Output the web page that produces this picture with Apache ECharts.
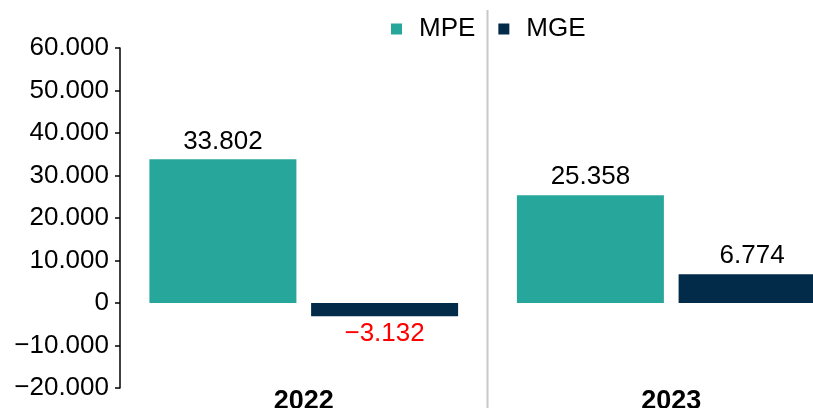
<!DOCTYPE html>
<html>
<head>
<meta charset="utf-8">
<script src="https://cdn.jsdelivr.net/npm/echarts@6/dist/echarts.min.js"></script>
<style>
  html, body { margin: 0; padding: 0; background: #fff; }
  #chart { width: 813px; height: 408px; }
</style>
</head>
<body>
<div id="chart"></div>
<script>
const years = ['2022', '2023'];
const mpe = [33802, 25358];
const mge = [-3132, 6774];
const yMin = -20000;
const yMax = 60000;
const yStep = 10000;

const FONT = "'Liberation Sans', Arial, sans-serif";
const TEAL = '#27a69b';
const NAVY = '#022b4a';

// 60000 -> "60.000", negative with a real minus sign
function fmt(v) {
  const s = String(Math.abs(Math.round(v))).replace(/\B(?=(\d{3})+(?!\d))/g, '.');
  return v < 0 ? '\u2212' + s : s;
}

const chart = echarts.init(document.getElementById('chart'));

chart.setOption({
  animation: false,
  textStyle: { fontFamily: FONT },
  legend: {
    left: 391,
    top: 16,
    padding: 0,
    itemWidth: 11,
    itemHeight: 11,
    itemGap: 23,
    icon: 'rect',
    textStyle: { fontSize: 26, color: '#000', padding: [0, 0, 0, 12], fontFamily: FONT },
    data: ['MPE', 'MGE']
  },
  // the plot runs past the right edge of the picture (2023 MGE bar is cut off)
  grid: { left: 120, width: 735, top: 48, bottom: 20, outerBoundsMode: 'none' },
  xAxis: {
    type: 'category',
    data: years,
    axisLine: { show: false },
    axisTick: { show: false },
    splitLine: { show: false },
    axisLabel: {
      margin: 0,
      fontSize: 27,
      fontWeight: 'bold',
      color: '#000',
      fontFamily: FONT
    }
  },
  yAxis: {
    type: 'value',
    min: yMin,
    max: yMax,
    interval: yStep,
    splitLine: { show: false },
    axisLine: { show: true, lineStyle: { color: '#000', width: 1.5 } },
    axisTick: { show: true, inside: false, length: 5, lineStyle: { color: '#000', width: 1.5 } },
    axisLabel: {
      margin: 11,
      fontSize: 26,
      color: '#000',
      fontFamily: FONT,
      formatter: fmt
    }
  },
  series: [
    {
      name: 'MPE',
      type: 'bar',
      barWidth: '40%',
      barGap: '10%',
      itemStyle: { color: TEAL },
      label: {
        show: true,
        position: 'top',
        fontSize: 26,
        color: '#000',
        fontFamily: FONT,
        formatter: p => fmt(p.value)
      },
      data: mpe
    },
    {
      name: 'MGE',
      type: 'bar',
      barWidth: '40%',
      barGap: '10%',
      itemStyle: { color: NAVY },
      label: {
        show: true,
        position: 'top',
        fontSize: 26,
        color: '#000',
        fontFamily: FONT,
        formatter: p => fmt(p.value)
      },
      data: mge.map(v => v < 0
        ? { value: v, label: { position: 'bottom', color: '#ff0000' } }
        : v)
    }
  ]
});

// grey divider between the two year groups, running through the legend
const divX = (chart.convertToPixel({ xAxisIndex: 0 }, 0) + chart.convertToPixel({ xAxisIndex: 0 }, 1)) / 2;
chart.setOption({
  graphic: [{
    type: 'line',
    shape: { x1: divX, y1: 10, x2: divX, y2: 408 },
    style: { stroke: '#c8c8c8', lineWidth: 2 },
    z: 0
  }]
});
</script>
</body>
</html>
